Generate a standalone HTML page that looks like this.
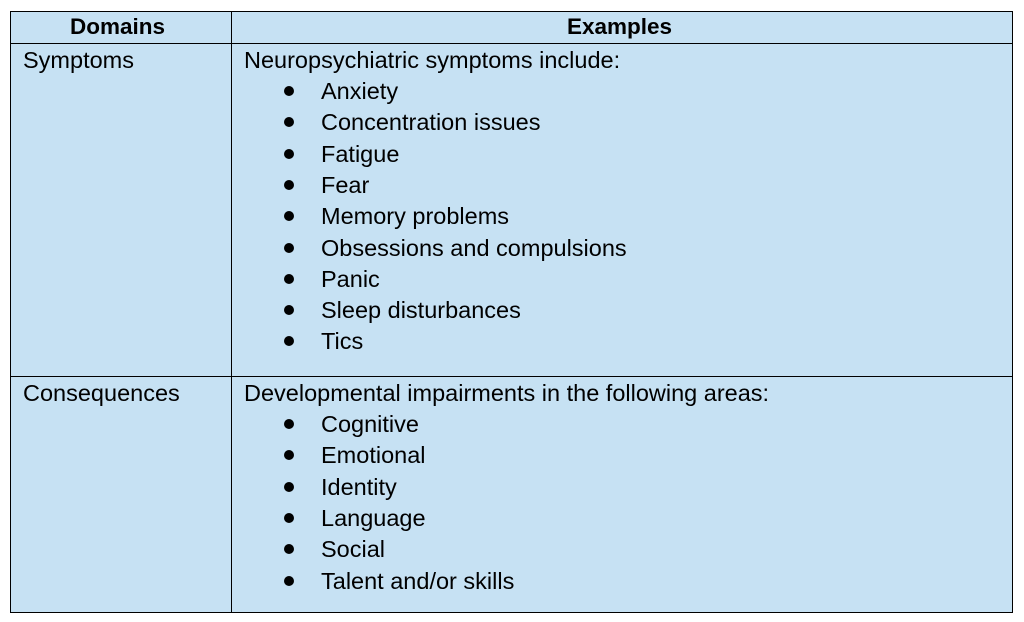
<!DOCTYPE html>
<html><head><style>
body{margin:0;width:1024px;height:622px;background:#fff;position:relative;font-family:"Liberation Sans",Arial,sans-serif;font-size:23.5px;color:#000;overflow:hidden}
.bg{position:absolute;left:10px;top:11px;width:1003px;height:602px;background:#c6e1f3;border:1px solid #000;box-sizing:border-box}
.h{position:absolute;background:#000;height:1px}
.v{position:absolute;background:#000;width:1px}
.t{position:absolute;white-space:nowrap;line-height:24px}
.hd{font-size:22.5px;font-weight:bold}
.b{position:absolute;width:10px;height:10px;border-radius:50%;background:#000}
</style></head><body>
<div class="bg"></div>
<div class="h" style="left:10px;top:43px;width:1003px"></div>
<div class="h" style="left:10px;top:376px;width:1003px"></div>
<div class="v" style="left:231px;top:11px;height:602px"></div>
<div class="t hd" style="left:70px;top:15px">Domains</div>
<div class="t hd" style="left:567px;top:15px">Examples</div>
<div class="t" style="left:23px;top:48px">Symptoms</div>
<div class="t" style="left:244px;top:48px">Neuropsychiatric symptoms include:</div>
<div class="t" style="left:23px;top:381px">Consequences</div>
<div class="t" style="left:244px;top:381px">Developmental impairments in the following areas:</div>
<script>
function add(items,start){items.forEach((s,i)=>{var y=start+i*31.3;
var d=document.createElement('div');d.className='t';d.style.left='321px';d.style.top=y+'px';d.textContent=s;document.body.appendChild(d);
var b=document.createElement('div');b.className='b';b.style.left='284px';b.style.top=(y+7)+'px';document.body.appendChild(b);});}
add(["Anxiety","Concentration issues","Fatigue","Fear","Memory problems","Obsessions and compulsions","Panic","Sleep disturbances","Tics"],79);
add(["Cognitive","Emotional","Identity","Language","Social","Talent and/or skills"],412);
</script>
</body></html>
